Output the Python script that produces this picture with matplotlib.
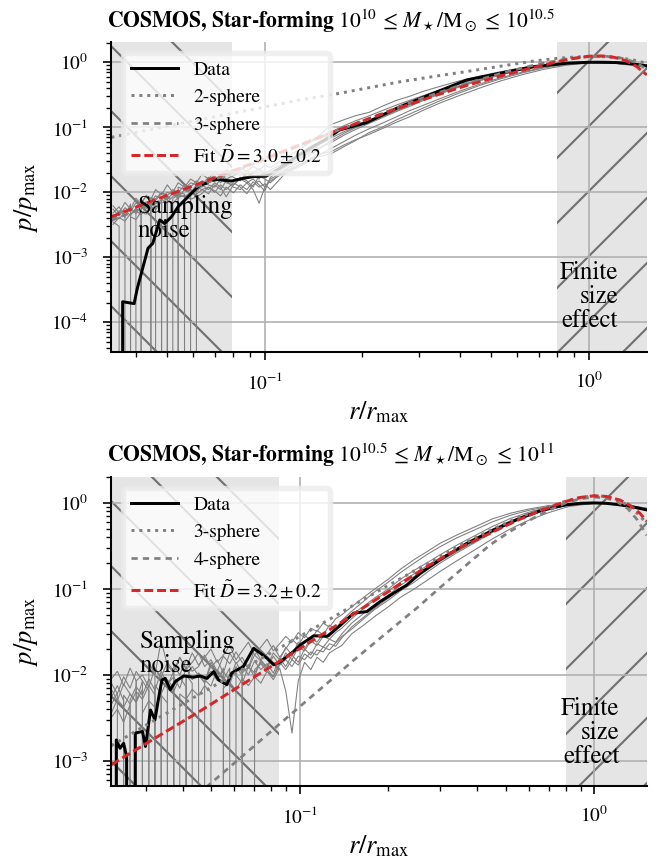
import matplotlib
matplotlib.use("Agg")
import matplotlib.pyplot as plt

DPI = 390

# ---------------- top panel: 10^10 <= M*/Msun <= 10^10.5 ----------------
top_title = r"COSMOS, Star-forming $10^{10}\,\leq\,M_\star/\mathrm{M}_\odot\,\leq\,10^{10.5}$"
top_xlim = (0.0336, 1.51)
top_ylim = (3.53e-5, 2.07)
top_noise_edge = 0.079
top_finite_edge = 0.8
top_fit_label = r"Fit $\tilde{D} = 3.0 \pm 0.2$"
top_sphere_labels = ["2-sphere", "3-sphere"]

top_data_r = [0.0364, 0.0364, 0.0395, 0.0404, 0.0436, 0.0451, 0.0474, 0.0491, 0.0515, 0.054,
              0.0587, 0.063, 0.0659, 0.0676, 0.0718, 0.0748, 0.0789, 0.0857, 0.092, 0.101,
              0.112, 0.125, 0.14, 0.155, 0.17, 0.206, 0.261, 0.331, 0.42, 0.531,
              0.673, 0.853, 1.0, 1.1, 1.22, 1.35, 1.51]
top_data_p = [0, 2.07e-4, 1.94e-4, 3.33e-4, 1.38e-3, 1.64e-3, 3.75e-3, 3.3e-3, 4.2e-3, 6.0e-3,
              9.1e-3, 0.0129, 0.0137, 0.015, 0.0158, 0.0153, 0.0149, 0.0164, 0.0174, 0.0177,
              0.024, 0.035, 0.05, 0.066, 0.0908, 0.118, 0.207, 0.333, 0.534, 0.677,
              0.855, 0.966, 1.0, 1.0, 0.99, 0.95, 0.88]

top_fit_r = [0.0336, 0.045, 0.063, 0.079, 0.1, 0.125, 0.155, 0.2, 0.25, 0.331, 0.42,
             0.531, 0.65, 0.8, 0.9, 1.0, 1.1, 1.2, 1.3, 1.4, 1.51]
top_fit_p = [0.0042, 0.0074, 0.0137, 0.021, 0.033, 0.051, 0.077, 0.124, 0.185, 0.30, 0.44,
             0.61, 0.79, 1.02, 1.15, 1.24, 1.25, 1.19, 1.06, 0.87, 0.64]

top_s1_r = [0.0336, 0.05, 0.07, 0.1, 0.128, 0.17, 0.261, 0.35, 0.42, 0.55, 0.673, 0.8,
            0.9, 1.0, 1.1, 1.2, 1.3, 1.4, 1.51]
top_s1_p = [0.07, 0.104, 0.145, 0.205, 0.263, 0.333, 0.50, 0.63, 0.72, 0.89, 1.04, 1.15,
            1.20, 1.23, 1.22, 1.19, 1.13, 1.06, 0.96]

top_s2_r = [0.0336, 0.05, 0.07, 0.1, 0.15, 0.2, 0.3, 0.4, 0.55, 0.7, 0.85, 1.0, 1.1,
            1.2, 1.3, 1.4, 1.51]
top_s2_p = [0.0037, 0.0081, 0.0158, 0.032, 0.072, 0.125, 0.27, 0.44, 0.70, 0.94, 1.12,
            1.22, 1.24, 1.21, 1.12, 0.98, 0.78]

top_real_r = [0.034, 0.0355, 0.037, 0.0385, 0.040, 0.0415, 0.043, 0.0445, 0.046, 0.048,
              0.050, 0.052, 0.054, 0.0565, 0.059, 0.0615, 0.064, 0.067, 0.070, 0.073,
              0.076, 0.080, 0.084, 0.088, 0.092, 0.096, 0.100, 0.104, 0.115, 0.13,
              0.145, 0.16, 0.175, 0.19, 0.21, 0.23, 0.255, 0.28, 0.31, 0.35,
              0.40, 0.46, 0.53, 0.62, 0.72, 0.85, 1.0, 1.2, 1.51]
top_real_p = [
    [0.0040, 0.0052, 0.0045, 0, 0.0060, 0.0071, 0.0058, 0.0083, 0.0075, 0.0096,
     0.0088, 0.011, 0.0098, 0.013, 0.012, 0.015, 0.013, 0.017, 0.015, 0.019,
     0.016, 0.018, 0.021, 0.017, 0.020, 0.023, 0.019, 0.022, 0.028, 0.037,
     0.052, 0.068, 0.085, 0.10, 0.125, 0.15, 0.19, 0.23, 0.28, 0.35,
     0.44, 0.55, 0.66, 0.78, 0.89, 0.97, 1.0, 0.98, 0.88],
    [0.0062, 0.0048, 0.0070, 0.0055, 0.0081, 0.0066, 0.0090, 0.0078, 0.011, 0.0092,
     0.013, 0.010, 0.014, 0.012, 0.016, 0.014, 0.019, 0.016, 0.021, 0.018,
     0.022, 0.020, 0.024, 0.021, 0.025, 0.022, 0.026, 0.024, 0.033, 0.048,
     0.070, 0.11, 0.13, 0.15, 0.17, 0.21, 0.26, 0.30, 0.36, 0.43,
     0.52, 0.61, 0.71, 0.82, 0.91, 0.98, 1.0, 0.97, 0.86],
    [0.0035, 0.0030, 0, 0.0042, 0.0038, 0.0050, 0.0046, 0.0061, 0.0054, 0.0072,
     0, 0.0080, 0.0091, 0.0085, 0.010, 0.0093, 0.011, 0.012, 0.010, 0.013,
     0.011, 0.014, 0.012, 0.0095, 0.013, 0.015, 0.012, 0.016, 0.021, 0.028,
     0.038, 0.042, 0.053, 0.064, 0.078, 0.095, 0.12, 0.145, 0.185, 0.24,
     0.31, 0.40, 0.51, 0.64, 0.77, 0.90, 0.98, 0.99, 0.91],
    [0.0048, 0.0060, 0.0041, 0.0066, 0, 0.0070, 0.0085, 0.0072, 0.0079, 0.0099,
     0.0090, 0, 0.012, 0.011, 0.014, 0.013, 0.012, 0.016, 0.018, 0.014,
     0.019, 0.017, 0.015, 0.020, 0.018, 0.016, 0.021, 0.019, 0.025, 0.034,
     0.047, 0.058, 0.075, 0.092, 0.115, 0.14, 0.175, 0.21, 0.26, 0.33,
     0.42, 0.52, 0.63, 0.76, 0.87, 0.96, 1.0, 0.97, 0.87],
    [0.0055, 0.0043, 0.0058, 0.0050, 0.0069, 0.0060, 0, 0.0072, 0.0088, 0.0080,
     0.010, 0.0092, 0.0081, 0.011, 0.0098, 0.013, 0.015, 0.013, 0.012, 0.016,
     0.014, 0.013, 0.017, 0.015, 0.012, 0.018, 0.016, 0.014, 0.022, 0.031,
     0.044, 0.062, 0.08, 0.098, 0.12, 0.145, 0.18, 0.22, 0.27, 0.34,
     0.43, 0.53, 0.64, 0.77, 0.88, 0.97, 1.0, 0.96, 0.85],
    [0.0038, 0.0047, 0.0053, 0.0044, 0.0057, 0.0066, 0.0061, 0.0074, 0, 0.0083,
     0.0079, 0.0096, 0.0087, 0, 0.011, 0.010, 0.013, 0.011, 0.014, 0.012,
     0.0085, 0.013, 0.016, 0.014, 0.011, 0.0068, 0.012, 0.015, 0.020, 0.027,
     0.036, 0.047, 0.06, 0.075, 0.095, 0.115, 0.145, 0.18, 0.22, 0.28,
     0.36, 0.46, 0.57, 0.70, 0.83, 0.94, 0.99, 0.98, 0.90],
    [0.0045, 0.0039, 0.0049, 0.0058, 0.0047, 0.0063, 0.0071, 0.0065, 0.0059, 0.0078,
     0.0070, 0.0086, 0.010, 0.0094, 0, 0.012, 0.011, 0.0095, 0.013, 0.011,
     0.015, 0.012, 0.011, 0.014, 0.016, 0.013, 0.0105, 0.017, 0.024, 0.035,
     0.05, 0.085, 0.105, 0.125, 0.15, 0.18, 0.22, 0.26, 0.31, 0.38,
     0.47, 0.57, 0.68, 0.80, 0.90, 0.97, 1.0, 0.98, 0.89],
    [0.0032, 0.0041, 0.0036, 0.0047, 0.0052, 0.0045, 0.0056, 0.0068, 0.0062, 0,
     0.0074, 0.0068, 0.0083, 0.0090, 0.0078, 0.0085, 0.0096, 0.012, 0.0105, 0.0088,
     0.012, 0.0098, 0.013, 0.011, 0.0145, 0.012, 0.0135, 0.011, 0.019, 0.026,
     0.035, 0.039, 0.05, 0.062, 0.083, 0.10, 0.13, 0.16, 0.20, 0.26,
     0.34, 0.44, 0.55, 0.68, 0.81, 0.93, 0.99, 0.99, 0.92],
]

# ---------------- bottom panel: 10^10.5 <= M*/Msun <= 10^11 ----------------
bot_title = r"COSMOS, Star-forming $10^{10.5}\,\leq\,M_\star/\mathrm{M}_\odot\,\leq\,10^{11}$"
bot_xlim = (0.0229, 1.51)
bot_ylim = (5.1e-4, 2.02)
bot_noise_edge = 0.0849
bot_finite_edge = 0.8
bot_fit_label = r"Fit $\tilde{D} = 3.2 \pm 0.2$"
bot_sphere_labels = ["3-sphere", "4-sphere"]

bot_data_r = [0.0232, 0.0238, 0.0245, 0.0252, 0.0258, 0.0266, 0.0276, 0.0292, 0.0299, 0.0311,
              0.0322, 0.0332, 0.034, 0.0349, 0.0363, 0.0378, 0.0403, 0.0435, 0.0459, 0.0484,
              0.051, 0.053, 0.0565, 0.0587, 0.0612, 0.0643, 0.0697, 0.0734, 0.0774, 0.0815,
              0.0859, 0.0904, 0.0952, 0.1004, 0.1115, 0.124, 0.137, 0.1524, 0.169, 0.1876,
              0.208, 0.231, 0.2566, 0.30, 0.37, 0.455, 0.561, 0.656, 0.797, 0.9,
              1.0, 1.1, 1.225, 1.35, 1.51]
bot_data_p = [0, 1.75e-3, 1.4e-3, 1.6e-3, 1.12e-3, 0, 2.1e-3, 2.2e-3, 1.47e-3, 3.9e-3,
              3.0e-3, 5.6e-3, 8.7e-3, 9.1e-3, 6.7e-3, 8.4e-3, 9.7e-3, 9.4e-3, 9.7e-3, 9.1e-3,
              0.0109, 8.7e-3, 7.7e-3, 0.0105, 0.0114, 0.0125, 0.0204, 0.0179, 0.0156, 0.0131,
              0.0142, 0.0163, 0.0187, 0.0223, 0.0285, 0.0281, 0.0375, 0.0522, 0.0545, 0.0711,
              0.089, 0.111, 0.152, 0.22, 0.34, 0.485, 0.664, 0.81, 0.948, 0.99,
              1.0, 0.99, 0.95, 0.90, 0.83]

bot_fit_r = [0.0229, 0.0319, 0.0459, 0.0621, 0.0774, 0.0859, 0.1, 0.1355, 0.1524, 0.2,
             0.2704, 0.35, 0.455, 0.55, 0.656, 0.797, 0.9, 1.0, 1.1, 1.225,
             1.33, 1.43, 1.51]
bot_fit_p = [9.0e-4, 1.8e-3, 3.8e-3, 7.3e-3, 0.0117, 0.0146, 0.0202, 0.039, 0.051, 0.093,
             0.182, 0.30, 0.464, 0.63, 0.81, 1.035, 1.16, 1.21, 1.19, 1.08,
             0.93, 0.76, 0.61]

bot_s1_r = [0.0229, 0.03, 0.04, 0.055, 0.075, 0.1, 0.13, 0.156, 0.2, 0.27, 0.35,
            0.455, 0.55, 0.656, 0.8, 0.9, 1.0, 1.1, 1.2, 1.3, 1.4, 1.51]
bot_s1_p = [1.5e-3, 2.6e-3, 4.6e-3, 8.6e-3, 0.016, 0.028, 0.047, 0.068, 0.11, 0.195, 0.32,
            0.50, 0.67, 0.84, 1.05, 1.16, 1.21, 1.19, 1.09, 0.94, 0.76, 0.58]

bot_s2_r = [0.048, 0.0645, 0.085, 0.11, 0.13, 0.1524, 0.2, 0.25, 0.30, 0.389, 0.443,
            0.52, 0.606, 0.7, 0.8, 0.9, 1.0, 1.1, 1.2, 1.3, 1.4, 1.51]
bot_s2_p = [4.9e-4, 1.17e-3, 2.65e-3, 5.65e-3, 9.2e-3, 0.0148, 0.032, 0.060, 0.104, 0.223, 0.325,
            0.47, 0.634, 0.82, 1.0, 1.12, 1.17, 1.14, 1.03, 0.86, 0.64, 0.42]

bot_real_r = [0.0229, 0.0240, 0.0252, 0.0265, 0.0278, 0.0292, 0.0307, 0.0322, 0.0338, 0.0355,
              0.0373, 0.0391, 0.0411, 0.0431, 0.0453, 0.0475, 0.0499, 0.0524, 0.0550, 0.0578,
              0.0607, 0.0637, 0.0669, 0.0702, 0.0737, 0.0774, 0.0813, 0.0854, 0.0896, 0.0941,
              0.0988, 0.1038, 0.109, 0.1144, 0.1201, 0.1261, 0.1324, 0.139, 0.15, 0.165,
              0.18, 0.2, 0.22, 0.245, 0.27, 0.3, 0.34, 0.39, 0.45, 0.52,
              0.6, 0.7, 0.82, 1.0, 1.2, 1.51]
bot_real_p = [
    [0.0045, 0.0062, 0, 0.0051, 0.0073, 0.0058, 0.0090, 0.0066, 0.011, 0.0078,
     0.0095, 0.0070, 0.012, 0.0088, 0.0105, 0.0080, 0.013, 0.0092, 0.011, 0.0085,
     0.014, 0.0105, 0.0125, 0.0095, 0.015, 0.012, 0.0165, 0.013, 0.018, 0.015,
     0.021, 0.019, 0.025, 0.022, 0.028, 0.026, 0.031, 0.035,
     0.045, 0.06, 0.075, 0.095, 0.12, 0.15, 0.185, 0.23, 0.29, 0.37, 0.49, 0.62,
     0.75, 0.87, 0.96, 1.0, 0.97, 0.84],
    [0.0080, 0.0060, 0.0095, 0.0070, 0.011, 0.0085, 0, 0.012, 0.0095, 0.014,
     0.011, 0.016, 0.012, 0.018, 0.013, 0.016, 0.020, 0.014, 0.017, 0.022,
     0.015, 0.019, 0.024, 0.017, 0.021, 0.026, 0.019, 0.023, 0.028, 0.024,
     0.031, 0.027, 0.035, 0.032, 0.040, 0.036, 0.045, 0.05,
     0.062, 0.08, 0.1, 0.13, 0.17, 0.22, 0.27, 0.34, 0.42, 0.52, 0.65, 0.76,
     0.85, 0.93, 0.98, 1.0, 0.98, 0.86],
    [0.0055, 0.0075, 0.0050, 0, 0.0085, 0.0100, 0.0072, 0.0120, 0.0088, 0,
     0.0130, 0.0100, 0.0150, 0.0110, 0.0125, 0.0170, 0.0120, 0.0150, 0.0105, 0.0180,
     0.0135, 0.0160, 0.0120, 0.0200, 0.0150, 0.0175, 0.0220, 0.0160, 0.0200, 0.0260,
     0.0220, 0.0290, 0.0250, 0.0330, 0.0290, 0.0380, 0.0340, 0.043,
     0.055, 0.072, 0.093, 0.12, 0.155, 0.2, 0.25, 0.31, 0.39, 0.48, 0.60, 0.72,
     0.82, 0.91, 0.97, 1.0, 0.97, 0.85],
    [0.0032, 0.0040, 0.0028, 0.0045, 0, 0.0036, 0.0050, 0.0042, 0.0058, 0.0047,
     0, 0.0060, 0.0052, 0.0068, 0.0057, 0.0075, 0.0062, 0, 0.0070, 0.0082,
     0.0066, 0.0090, 0.0075, 0.0095, 0.0080, 0.0110, 0.0088, 0.0120, 0.0065, 0.0021,
     0.0085, 0.0140, 0.0115, 0.0160, 0.0140, 0.0180, 0.0200, 0.022,
     0.03, 0.038, 0.048, 0.062, 0.08, 0.10, 0.125, 0.16, 0.21, 0.28, 0.38, 0.50,
     0.63, 0.77, 0.91, 0.99, 0.98, 0.85],
    [0.0068, 0.0050, 0.0078, 0.0060, 0.0048, 0.0085, 0.0065, 0, 0.0098, 0.0075,
     0.0110, 0, 0.0090, 0.0125, 0.0098, 0.0082, 0.0140, 0.0105, 0.0088, 0.0120,
     0, 0.0130, 0.0100, 0.0145, 0.0115, 0.0135, 0.0105, 0.0155, 0.0125, 0.0170,
     0.0140, 0.0200, 0.0170, 0.0230, 0.0210, 0.0260, 0.0240, 0.030,
     0.04, 0.052, 0.066, 0.085, 0.11, 0.14, 0.175, 0.22, 0.28, 0.36, 0.47, 0.60,
     0.73, 0.86, 0.95, 1.0, 0.96, 0.82],
    [0.0040, 0, 0.0058, 0.0046, 0.0064, 0.0052, 0.0076, 0.0058, 0, 0.0082,
     0.0064, 0.0094, 0.0072, 0, 0.0105, 0.0088, 0.0074, 0.0115, 0.0092, 0.0078,
     0.0125, 0.0098, 0, 0.0115, 0.0135, 0.0110, 0.0095, 0.0140, 0.0115, 0.0150,
     0.0130, 0.0175, 0.0155, 0.0195, 0.0185, 0.0230, 0.0215, 0.027,
     0.036, 0.047, 0.06, 0.078, 0.1, 0.13, 0.165, 0.21, 0.27, 0.35, 0.46, 0.59,
     0.72, 0.85, 0.95, 1.0, 0.97, 0.83],
    [0.0090, 0.0110, 0.0075, 0.0120, 0.0085, 0, 0.0140, 0.0100, 0.0250, 0.0130,
     0.0105, 0.0160, 0.0115, 0.0140, 0.0180, 0.0125, 0.0150, 0.0110, 0.0165, 0.0135,
     0.0185, 0.0140, 0.0120, 0.0170, 0.0145, 0.0125, 0.0180, 0.0150, 0.0210, 0.0170,
     0.0240, 0.0200, 0.0270, 0.0240, 0.0300, 0.0280, 0.0330, 0.038,
     0.05, 0.063, 0.079, 0.1, 0.13, 0.165, 0.2, 0.25, 0.32, 0.41, 0.53, 0.66,
     0.78, 0.89, 0.97, 1.0, 0.98, 0.87],
    [0.0036, 0.0052, 0.0042, 0.0060, 0.0048, 0.0068, 0, 0.0076, 0.0060, 0.0088,
     0.0070, 0, 0.0100, 0.0080, 0, 0.0092, 0.0110, 0.0086, 0.0120, 0,
     0.0100, 0.0080, 0.0125, 0.0105, 0.0140, 0.0118, 0.0095, 0.0130, 0.0150, 0.0125,
     0.0165, 0.0150, 0.0185, 0.0170, 0.0210, 0.0195, 0.0235, 0.028,
     0.034, 0.045, 0.058, 0.074, 0.095, 0.12, 0.155, 0.2, 0.26, 0.34, 0.45, 0.58,
     0.71, 0.84, 0.94, 0.99, 0.98, 0.86],
]

# ---------------- style ----------------
plt.rcParams["font.family"] = ["STIXGeneral", "DejaVu Serif"]
plt.rcParams["mathtext.fontset"] = "stix"
plt.rcParams["hatch.linewidth"] = 0.4
plt.rcParams["axes.linewidth"] = 0.38
plt.rcParams["xtick.major.width"] = 0.3
plt.rcParams["ytick.major.width"] = 0.3
plt.rcParams["xtick.minor.width"] = 0.25
plt.rcParams["ytick.minor.width"] = 0.25
plt.rcParams["xtick.major.size"] = 1.5
plt.rcParams["ytick.major.size"] = 1.5
plt.rcParams["xtick.minor.size"] = 0.95
plt.rcParams["ytick.minor.size"] = 0.95
plt.rcParams["xtick.major.pad"] = 2.2
plt.rcParams["ytick.major.pad"] = 2.8
plt.rcParams["xtick.labelsize"] = 3.55
plt.rcParams["ytick.labelsize"] = 3.55

SHADE = "#e5e5e5"
HATCH = "#727272"
GRAY = "0.5"
RED = "#d62728"


def draw_panel(ax, xlim, ylim, noise_edge, finite_edge,
               data_r, data_p, fit_r, fit_p, s1_r, s1_p, s2_r, s2_p,
               real_r, real_p, sphere_labels, fit_label,
               noise_xy, finite_xy):
    ax.set_xscale("log")
    ax.set_yscale("log")

    # shaded regions
    ax.axvspan(xlim[0] * 0.5, noise_edge, facecolor=SHADE, edgecolor=HATCH,
               hatch="\\\\", linewidth=0)
    ax.axvspan(finite_edge, xlim[1] * 2, facecolor=SHADE, edgecolor=HATCH,
               hatch="//", linewidth=0)

    for p in real_p:
        ax.plot(real_r, p, color=GRAY, lw=0.2)

    h_data, = ax.plot(data_r, data_p, color="black", lw=0.55, label="Data")
    h_s1, = ax.plot(s1_r, s1_p, color=GRAY, lw=0.55, ls=":", label=sphere_labels[0])
    h_s2, = ax.plot(s2_r, s2_p, color=GRAY, lw=0.5, dashes=(2.3, 1.9),
                    label=sphere_labels[1])
    h_fit, = ax.plot(fit_r, fit_p, color=RED, lw=0.55, dashes=(3.0, 1.3),
                     label=fit_label)

    ax.text(noise_xy[0], noise_xy[1], "Sampling\nnoise", fontsize=4.6,
            ha="left", va="top", linespacing=1.0)
    ax.text(finite_xy[0], finite_xy[1], "Finite\nsize\neffect", fontsize=4.6,
            ha="right", va="top", linespacing=1.0)

    ax.set_xlim(xlim)
    ax.set_ylim(ylim)
    ax.grid(True, which="major", color="#b0b0b0", lw=0.3)
    ax.spines["top"].set_visible(False)
    ax.spines["right"].set_visible(False)
    ax.set_xlabel(r"$r/r_{\max}$", fontsize=4.9, labelpad=1.3)
    ax.set_ylabel(r"$p/p_{\max}$", fontsize=4.9, labelpad=1.9)

    ax.legend(handles=[h_data, h_s1, h_s2, h_fit], loc="upper left",
              fontsize=3.6, handlelength=2.4, framealpha=0.8,
              edgecolor="0.92", borderaxespad=0.6)


fig = plt.figure(figsize=(661 / DPI, 862 / DPI), dpi=DPI)
ax_top = fig.add_axes([0.1685, 0.592, 0.81, 0.3596])
ax_bot = fig.add_axes([0.1685, 0.0882, 0.81, 0.3588])

draw_panel(ax_top, top_xlim, top_ylim, top_noise_edge, top_finite_edge,
           top_data_r, top_data_p, top_fit_r, top_fit_p,
           top_s1_r, top_s1_p, top_s2_r, top_s2_p,
           top_real_r, top_real_p, top_sphere_labels, top_fit_label,
           (0.0406, 0.0092), (1.231, 8.8e-4))
draw_panel(ax_bot, bot_xlim, bot_ylim, bot_noise_edge, bot_finite_edge,
           bot_data_r, bot_data_p, bot_fit_r, bot_fit_p,
           bot_s1_r, bot_s1_p, bot_s2_r, bot_s2_p,
           bot_real_r, bot_real_p, bot_sphere_labels, bot_fit_label,
           (0.0286, 0.0334), (1.22, 5.5e-3))

fig.text(0.5, 1 - 28.3 / 862, top_title, ha="center", va="baseline",
         fontsize=4.0, fontweight="bold")
fig.text(0.5, 1 - 461.7 / 862, bot_title, ha="center", va="baseline",
         fontsize=4.0, fontweight="bold")

fig.savefig("out.png", dpi=DPI)
